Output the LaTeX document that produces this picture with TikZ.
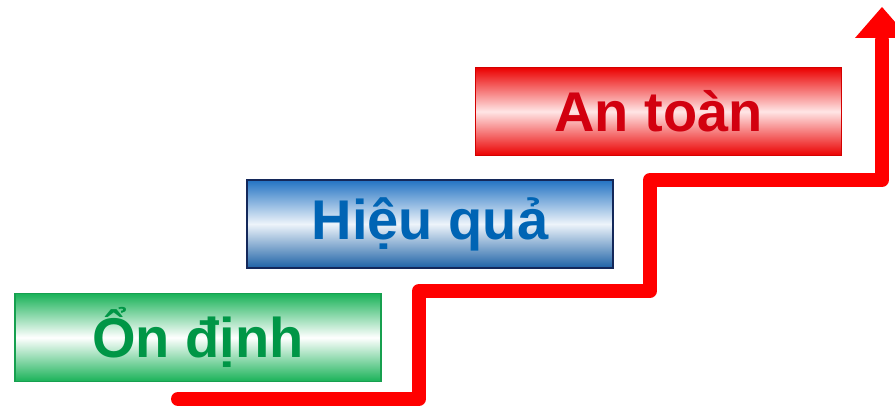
\documentclass[tikz,border=0pt]{standalone}
\usepackage{fontspec}
\setmainfont{Liberation Sans}
\usetikzlibrary{calc, positioning}

\definecolor{okgreen}{RGB}{25,178,88}
\definecolor{okgreentext}{RGB}{0,150,70}
\definecolor{effblue}{RGB}{35,115,195}
\definecolor{effbluetext}{RGB}{0,100,180}
\definecolor{effnavy}{RGB}{20,40,90}
\definecolor{safered}{RGB}{235,0,0}
\definecolor{saferedtext}{RGB}{210,0,15}

\begin{document}
\begin{tikzpicture}[
    x=1pt, y=-1pt,
    font=\bfseries\fontsize{56}{60}\selectfont,
    level/.style={draw, rectangle, line width=1.5pt, minimum width=366pt, minimum height=88pt, align=center, inner sep=0pt},
    stair/.style={draw=red, line width=14pt, line join=round, line cap=round}
]
    \useasboundingbox (0,0) rectangle (895,406);

    % Levels
    \node [level, draw=okgreen!90!black, top color=okgreen, bottom color=okgreen, middle color=white, text=okgreentext] (Stable) at (198,337.5) {Ổn định};
    \node [level, draw=effnavy, top color=effblue, bottom color=effblue!85!black, middle color=white!92!effblue, text=effbluetext] (Efficient) at (430,224) {Hiệu quả};
    \node [level, draw=safered!90!black, top color=safered, bottom color=safered, middle color=white!90!red, text=saferedtext] (Safe) at (658.5,111.5) {An toàn};

    % Staircase corners
    \coordinate (s0) at (178,399);
    \coordinate (s1) at (419,399);
    \coordinate (s2) at (419,291);
    \coordinate (s3) at (650,291);
    \coordinate (s4) at (650,180);
    \coordinate (s5) at (882,180);
    \coordinate (s6) at (882,40);
    \coordinate (tip) at (882,7);

    % Rising line and its head
    \draw [stair] (s0) -- (s1) -- (s2) -- (s3) -- (s4) -- (s5) -- (s6);
    \fill [red] (tip) -- ($(s6)+(27,-2)$) -- ($(s6)+(-27,-2)$) -- cycle;

\end{tikzpicture}
\end{document}
